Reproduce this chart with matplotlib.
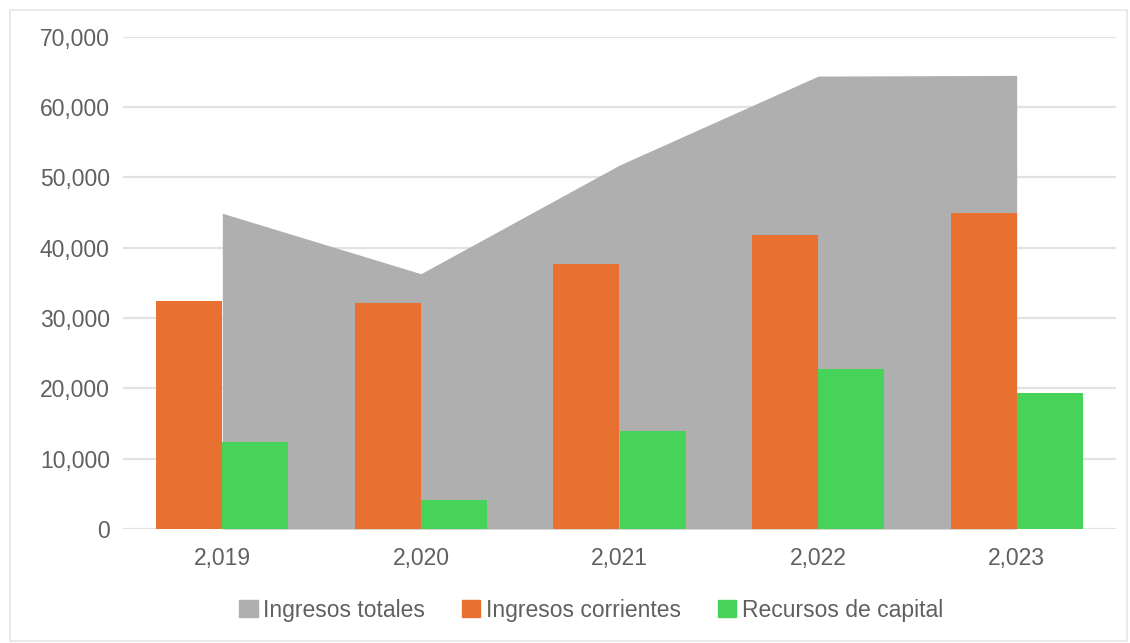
import numpy as np
import matplotlib.pyplot as plt
from matplotlib.patches import Patch, Rectangle

plt.rcParams['font.family'] = ['Liberation Sans', 'DejaVu Sans']

years = ['2,019', '2,020', '2,021', '2,022', '2,023']
ingresos_totales = [44900, 36300, 51750, 64400, 64500]
ingresos_corrientes = [32450, 32150, 37650, 41800, 45000]
recursos_capital = [12400, 4100, 13900, 22700, 19400]

c_total = '#afafaf'
c_corr = '#e87132'
c_cap = '#47d35a'
c_text = '#606060'

fig = plt.figure(figsize=(11.3, 6.43), dpi=100)
ax = fig.add_axes([123 / 1130, (643 - 529) / 643, (1116 - 123) / 1130, (529 - 36.7) / 643])

x = np.arange(len(years))
w = 0.333

# area for the totals, from first to last category center
ax.fill_between(x, 0, ingresos_totales, color=c_total, linewidth=0, zorder=2)
ax.bar(x - w / 2, ingresos_corrientes, width=w, color=c_corr, zorder=3)
ax.bar(x + w / 2, recursos_capital, width=w, color=c_cap, zorder=3)

ax.set_xlim(-0.5, len(years) - 0.5)
ax.set_ylim(0, 70000)
ax.set_yticks(np.arange(0, 70001, 10000))
ax.set_yticklabels([f'{v:,}' for v in range(0, 70001, 10000)])
ax.set_xticks(x)
ax.set_xticklabels(years)
ax.yaxis.grid(True, color='#e2e2e2', linewidth=1.6, zorder=0)
ax.set_axisbelow(True)
for s in ax.spines.values():
    s.set_visible(False)
ax.tick_params(axis='both', length=0, labelsize=16.5, labelcolor=c_text)
ax.tick_params(axis='y', pad=9.5)
ax.tick_params(axis='x', pad=13)

handles = [Patch(color=c_total), Patch(color=c_corr), Patch(color=c_cap)]
labels = ['Ingresos totales', 'Ingresos corrientes', 'Recursos de capital']
fig.legend(handles, labels, loc='center', bbox_to_anchor=(591 / 1130, 1 - 610 / 643),
           ncol=3, frameon=False, fontsize=16.5, labelcolor=c_text,
           handlelength=0.8, handleheight=0.8, handletextpad=0.25, columnspacing=1.6)

# light frame around the chart
fig.patches.append(Rectangle((10 / 1130, 2 / 643), 1117 / 1130, 631 / 643,
                             transform=fig.transFigure, fill=False,
                             edgecolor='#e6e6e6', linewidth=1.2))

fig.savefig('out.png', dpi=100)
